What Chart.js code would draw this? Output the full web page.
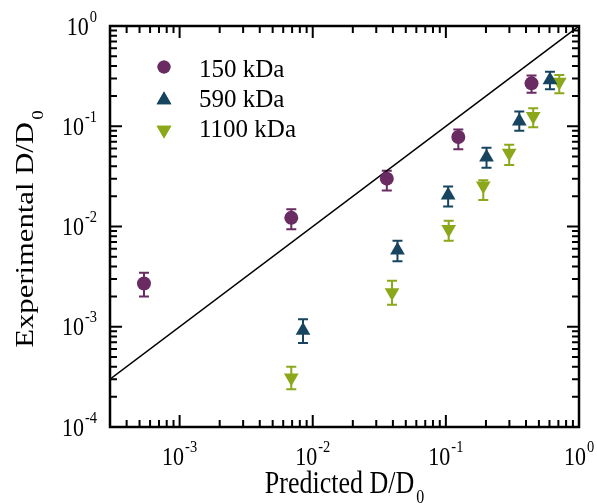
<!DOCTYPE html>
<html>
<head>
<meta charset="utf-8">
<script src="https://cdn.jsdelivr.net/npm/chart.js@4"></script>
<style>
  body { margin: 0; background: #fff; }
  #wrap { width: 597px; height: 504px; }
</style>
</head>
<body>
<div id="wrap"><canvas id="chart" width="597" height="504"></canvas></div>
<script>
// values
const seriesNames = ["150 kDa", "590 kDa", "1100 kDa"];
const seriesColors = ["#6a2a62", "#17455f", "#8ba81b"];

const x150 = [5.4e-4, 6.9e-3, 0.036, 0.124, 0.44];
const y150 = [2.7e-3, 1.22e-2, 0.030, 0.078, 0.268];
const lo150 = [2.0e-3, 9.4e-3, 0.0228, 0.059, 0.216];
const hi150 = [3.46e-3, 1.49e-2, 0.036, 0.093, 0.32];

const x590 = [8.45e-3, 0.0433, 0.104, 0.202, 0.356, 0.605];
const y590 = [9.2e-4, 5.8e-3, 0.0205, 0.049, 0.112, 0.29];
const lo590 = [6.9e-4, 4.5e-3, 0.0158, 0.0386, 0.090, 0.234];
const hi590 = [1.19e-3, 7.2e-3, 0.025, 0.061, 0.14, 0.35];

const x1100 = [6.9e-3, 0.0394, 0.105, 0.191, 0.299, 0.453, 0.711];
const y1100 = [3.1e-4, 2.2e-3, 9.4e-3, 0.0255, 0.054, 0.126, 0.277];
const lo1100 = [2.38e-4, 1.66e-3, 7.2e-3, 0.0184, 0.041, 0.098, 0.213];
const hi1100 = [4.0e-4, 2.88e-3, 0.0114, 0.029, 0.0655, 0.151, 0.324];

// y = x reference line
const lineX = [3e-4, 1];
const lineY = [3e-4, 1];

const xDecades = [-3, -2, -1, 0];
const yDecades = [-4, -3, -2, -1, 0];

const serif = "'Times New Roman', 'Liberation Serif', serif";
const STRETCH = 1.18; // the original text is a bit taller than wide

function pts(xs, ys) {
  return xs.map((x, i) => ({ x: x, y: ys[i] }));
}

const errBars = [
  { lo: lo150, hi: hi150 },
  { lo: lo590, hi: hi590 },
  { lo: lo1100, hi: hi1100 }
];

// error bars, behind the markers
const errorBarPlugin = {
  id: 'errorBars',
  beforeDatasetsDraw(chart) {
    const ctx = chart.ctx;
    const ys = chart.scales.y;
    errBars.forEach((eb, di) => {
      const meta = chart.getDatasetMeta(di);
      ctx.save();
      ctx.strokeStyle = seriesColors[di];
      ctx.lineWidth = 2;
      meta.data.forEach((p, i) => {
        const top = ys.getPixelForValue(eb.hi[i]);
        const bot = ys.getPixelForValue(eb.lo[i]);
        ctx.beginPath();
        ctx.moveTo(p.x, top); ctx.lineTo(p.x, bot);
        ctx.moveTo(p.x - 5, top); ctx.lineTo(p.x + 5, top);
        ctx.moveTo(p.x - 5, bot); ctx.lineTo(p.x + 5, bot);
        ctx.stroke();
      });
      ctx.restore();
    });
  }
};

function tallText(ctx, text, x, y, size) {
  ctx.save();
  ctx.translate(x, y);
  ctx.scale(1, STRETCH);
  ctx.font = size + "px " + serif;
  ctx.fillText(text, 0, 0);
  ctx.restore();
}

function drawPow(ctx, x, y, exp, align) {
  ctx.font = "22px " + serif;
  const w1 = ctx.measureText("10").width;
  ctx.font = "14.5px " + serif;
  const w2 = ctx.measureText(exp).width;
  let start = align === 'right' ? x - w1 - w2 - 1 : x - (w1 + w2 + 1) / 2;
  tallText(ctx, "10", start, y, 22);
  tallText(ctx, exp, start + w1 + 1, y - 13, 14.5);
}

// frame, inward ticks, labels, titles, legend
const framePlugin = {
  id: 'frame',
  afterDraw(chart) {
    const ctx = chart.ctx;
    const a = chart.chartArea;
    const xs = chart.scales.x, ys = chart.scales.y;
    ctx.save();
    ctx.strokeStyle = '#000';
    ctx.lineWidth = 2;

    ctx.beginPath();
    for (let d = -4; d <= 0; d++) {
      for (let m = 1; m <= 9; m++) {
        const v = m * Math.pow(10, d);
        const len = m === 1 ? 12 : 7;
        if (v >= xs.min && v <= xs.max) {
          const px = xs.getPixelForValue(v);
          ctx.moveTo(px, a.bottom); ctx.lineTo(px, a.bottom - len);
          ctx.moveTo(px, a.top); ctx.lineTo(px, a.top + len);
        }
        if (v >= ys.min && v <= ys.max) {
          const py = ys.getPixelForValue(v);
          ctx.moveTo(a.left, py); ctx.lineTo(a.left + len, py);
          ctx.moveTo(a.right, py); ctx.lineTo(a.right - len, py);
        }
      }
    }
    ctx.stroke();
    ctx.lineWidth = 2.5;
    ctx.strokeRect(a.left, a.top, a.right - a.left, a.bottom - a.top);

    ctx.fillStyle = '#000';
    ctx.textAlign = 'left';
    ctx.textBaseline = 'alphabetic';
    xDecades.forEach(d => {
      drawPow(ctx, xs.getPixelForValue(Math.pow(10, d)), 465, String(d), 'center');
    });
    yDecades.forEach(d => {
      const py = ys.getPixelForValue(Math.pow(10, d));
      drawPow(ctx, 97, py + 8.5, String(d), 'right');
    });

    // x title
    ctx.font = "26px " + serif;
    const t1 = "Predicted D/D";
    const w1 = ctx.measureText(t1).width;
    ctx.font = "16px " + serif;
    const ws = ctx.measureText("0").width;
    let sx = (a.left + a.right) / 2 - (w1 + ws + 2) / 2;
    tallText(ctx, t1, sx, 493, 26);
    tallText(ctx, "0", sx + w1 + 2, 503, 16);

    // y title, stretched along the text
    ctx.save();
    ctx.translate(33, 229);
    ctx.rotate(-Math.PI / 2);
    ctx.scale(STRETCH, 1);
    ctx.font = "26px " + serif;
    const t2 = "Experimental D/D";
    const w2 = ctx.measureText(t2).width;
    ctx.font = "16px " + serif;
    const ws2 = ctx.measureText("0").width;
    sx = -(w2 + ws2 + 2) / 2;
    ctx.font = "26px " + serif;
    ctx.fillText(t2, sx, 0);
    ctx.font = "16px " + serif;
    ctx.fillText("0", sx + w2 + 2, 10);
    ctx.restore();

    // legend
    const markY = [67, 100, 130];
    const textY = [77, 107, 137];
    const styles = ['circle', 'triangle', 'triangle'];
    const rots = [0, 0, 180];
    const radii = [6.5, 8.5, 8.5];
    markY.forEach((ry, i) => {
      ctx.fillStyle = seriesColors[i];
      Chart.helpers.drawPoint(ctx, { pointStyle: styles[i], rotation: rots[i], radius: radii[i], borderWidth: 0 }, 164, ry);
      ctx.fill();
      ctx.fillStyle = '#000';
      ctx.font = "25px " + serif;
      ctx.fillText(seriesNames[i], 199, textY[i]);
    });
    ctx.restore();
  }
};

function build() {
  new Chart(document.getElementById('chart'), {
    type: 'scatter',
    data: {
      datasets: [
        { label: seriesNames[0], data: pts(x150, y150), backgroundColor: seriesColors[0], borderWidth: 0, pointStyle: 'circle', pointRadius: 7 },
        { label: seriesNames[1], data: pts(x590, y590), backgroundColor: seriesColors[1], borderWidth: 0, pointStyle: 'triangle', pointRadius: 8.5 },
        { label: seriesNames[2], data: pts(x1100, y1100), backgroundColor: seriesColors[2], borderWidth: 0, pointStyle: 'triangle', pointRotation: 180, pointRadius: 8.5 },
        { type: 'line', label: 'y = x', data: pts(lineX, lineY), borderColor: '#000', borderWidth: 1.5, pointRadius: 0, fill: false }
      ]
    },
    options: {
      responsive: false,
      animation: false,
      layout: { padding: { left: 110, right: 18, top: 26, bottom: 77 } },
      plugins: { legend: { display: false }, tooltip: { enabled: false } },
      scales: {
        x: { type: 'logarithmic', min: 3e-4, max: 1, display: false },
        y: { type: 'logarithmic', min: 1e-4, max: 1, display: false }
      }
    },
    plugins: [errorBarPlugin, framePlugin]
  });
}

Promise.all([
  document.fonts.load("25px 'Liberation Serif'"),
  document.fonts.load("15px 'Liberation Serif'")
]).then(build, build);
</script>
</body>
</html>
